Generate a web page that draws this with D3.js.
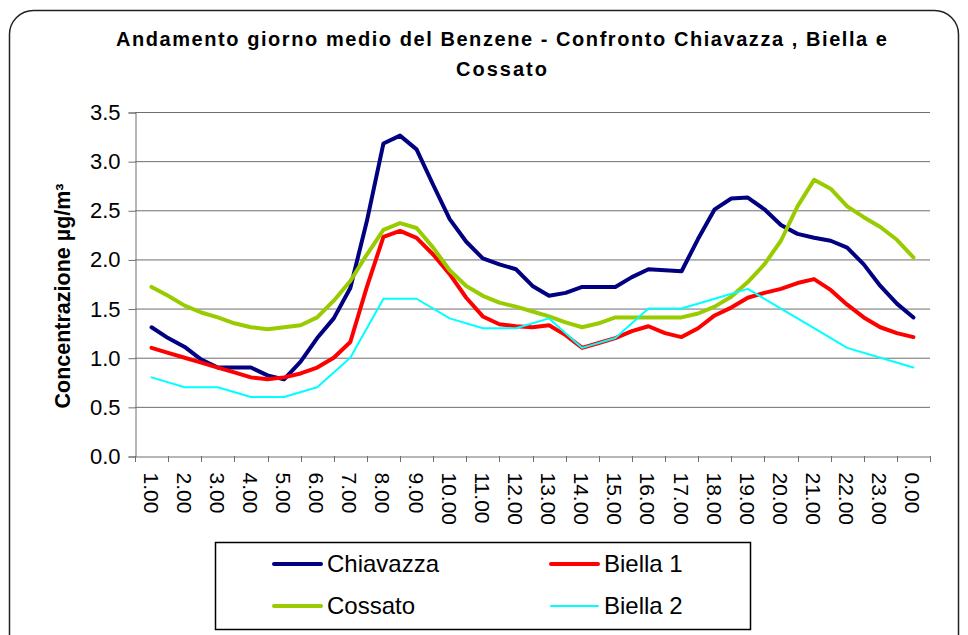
<!DOCTYPE html>
<html>
<head>
<meta charset="utf-8">
<script src="https://cdn.jsdelivr.net/npm/d3@7"></script>
<style>
    body { margin: 0; background: #fff; }
    svg text { font-family: "Liberation Sans", Arial, sans-serif; }
</style>
</head>
<body>
<svg id="chart" width="968" height="635"></svg>
<script>
// hourly category labels
let hours = ["1.00", "2.00", "3.00", "4.00", "5.00", "6.00", "7.00", "8.00", "9.00", "10.00",
    "11.00", "12.00", "13.00", "14.00", "15.00", "16.00", "17.00", "18.00", "19.00", "20.00",
    "21.00", "22.00", "23.00", "0.00"];

// half-hour values, 1.00 -> 0.00 (47 points)
let chiavazza = [1.31, 1.20, 1.11, 0.98, 0.90, 0.90, 0.90, 0.82, 0.78, 0.96,
    1.20, 1.40, 1.71, 2.39, 3.18, 3.26, 3.12, 2.76, 2.41, 2.18,
    2.01, 1.95, 1.90, 1.73, 1.63, 1.66, 1.72, 1.72, 1.72, 1.82,
    1.90, 1.89, 1.88, 2.21, 2.51, 2.62, 2.63, 2.51, 2.35, 2.26,
    2.22, 2.19, 2.12, 1.95, 1.73, 1.55, 1.41];
let biella1 = [1.10, 1.05, 1.00, 0.95, 0.90, 0.85, 0.80, 0.78, 0.80, 0.84,
    0.90, 1.00, 1.16, 1.72, 2.23, 2.29, 2.22, 2.05, 1.85, 1.61,
    1.42, 1.34, 1.32, 1.31, 1.33, 1.23, 1.10, 1.15, 1.20, 1.27,
    1.32, 1.25, 1.21, 1.30, 1.43, 1.51, 1.61, 1.66, 1.70, 1.76,
    1.80, 1.69, 1.54, 1.41, 1.31, 1.25, 1.21];
let cossato = [1.72, 1.63, 1.53, 1.46, 1.41, 1.35, 1.31, 1.29, 1.31, 1.33,
    1.41, 1.58, 1.78, 2.05, 2.30, 2.37, 2.32, 2.12, 1.89, 1.73,
    1.63, 1.56, 1.52, 1.47, 1.42, 1.36, 1.31, 1.35, 1.41, 1.41,
    1.41, 1.41, 1.41, 1.45, 1.52, 1.62, 1.77, 1.95, 2.19, 2.54,
    2.81, 2.72, 2.54, 2.43, 2.33, 2.20, 2.02];
// hourly values
let biella2 = [0.8, 0.7, 0.7, 0.6, 0.6, 0.7, 1.0, 1.6, 1.6, 1.4,
    1.3, 1.3, 1.4, 1.1, 1.2, 1.5, 1.5, 1.6, 1.7, 1.5,
    1.3, 1.1, 1.0, 0.9];

let yTicks = [0, 0.5, 1, 1.5, 2, 2.5, 3, 3.5];

let series = [
    {name: "Chiavazza", values: chiavazza, step: 0.5, color: "#000080", width: 4},
    {name: "Biella 1", values: biella1, step: 0.5, color: "#ff0000", width: 4},
    {name: "Cossato", values: cossato, step: 0.5, color: "#99cc00", width: 4},
    {name: "Biella 2", values: biella2, step: 1, color: "#00ffff", width: 2}
];

let svg = d3.select("#chart");
let plot = {left: 135, right: 930, top: 112, bottom: 456};

// outer frame
svg.append("rect")
    .attr("x", 9.5).attr("y", 10.5)
    .attr("width", 949).attr("height", 660)
    .attr("rx", 24)
    .attr("fill", "#fff")
    .attr("stroke", "#222")
    .attr("stroke-width", 1.5);

// title (stretched like the original rendering)
let title = svg.append("g")
    .attr("font-weight", "bold")
    .attr("font-size", 20)
    .attr("fill", "#000");
title.append("text")
    .attr("x", 116).attr("y", 46)
    .attr("textLength", 771)
    .attr("lengthAdjust", "spacing")
    .text("Andamento giorno medio del Benzene - Confronto Chiavazza , Biella e");
title.append("text")
    .attr("x", 456).attr("y", 76)
    .attr("textLength", 91)
    .attr("lengthAdjust", "spacing")
    .text("Cossato");

// scales
let x = d3.scaleBand()
    .domain(hours)
    .range([plot.left, plot.right]);
let xPos = d3.scaleLinear()
    .domain([0, hours.length - 1])
    .range([x(hours[0]) + x.bandwidth() / 2, x(hours[hours.length - 1]) + x.bandwidth() / 2]);
let y = d3.scaleLinear()
    .domain([0, 3.5])
    .range([plot.bottom, plot.top]);

// gridlines
svg.append("g")
    .selectAll("line")
    .data(yTicks.filter(d => d > 0))
    .join("line")
    .attr("x1", plot.left).attr("x2", plot.right)
    .attr("y1", d => y(d) + 0.5).attr("y2", d => y(d) + 0.5)
    .attr("stroke", "#6e6e6e")
    .attr("stroke-width", 1);

// y axis
let yAxis = svg.append("g")
    .attr("transform", "translate(" + (plot.left + 0.5) + ",0.5)")
    .call(d3.axisLeft(y).tickValues(yTicks).tickFormat(d3.format(".1f")).tickSize(7).tickPadding(8));
yAxis.select(".domain").attr("stroke", "#6e6e6e");
yAxis.selectAll(".tick line").attr("stroke", "#6e6e6e");
yAxis.selectAll(".tick text")
    .attr("font-size", 22)
    .attr("fill", "#000")
    .attr("font-family", "Liberation Sans, Arial, sans-serif");

// x axis: labels at band centres, ticks between categories
let xAxis = svg.append("g")
    .attr("transform", "translate(0," + (plot.bottom + 0.5) + ")")
    .call(d3.axisBottom(x).tickSize(0).tickPadding(0));
xAxis.select(".domain").attr("stroke", "#6e6e6e");
xAxis.selectAll(".tick text")
    .attr("font-size", 21)
    .attr("fill", "#000")
    .attr("font-family", "Liberation Sans, Arial, sans-serif")
    .attr("text-anchor", "start")
    .attr("transform", "translate(-8,16) rotate(90)")
    .attr("dy", "0")
    .attr("y", 0);

svg.append("g")
    .selectAll("line")
    .data(hours.map(h => x(h)).concat([plot.right]))
    .join("line")
    .attr("x1", d => Math.round(d) + 0.5).attr("x2", d => Math.round(d) + 0.5)
    .attr("y1", plot.bottom).attr("y2", plot.bottom + 6)
    .attr("stroke", "#6e6e6e");

// lines
let line = d3.line()
    .x(d => xPos(d.i))
    .y(d => y(d.v));

svg.append("g")
    .selectAll("path")
    .data(series)
    .join("path")
    .attr("d", s => line(s.values.map((v, j) => ({i: j * s.step, v: v}))))
    .attr("fill", "none")
    .attr("stroke", s => s.color)
    .attr("stroke-width", s => s.width)
    .attr("stroke-linejoin", "round")
    .attr("stroke-linecap", "round");

// y axis title
svg.append("text")
    .attr("transform", "translate(70,296) rotate(-90)")
    .attr("text-anchor", "middle")
    .attr("font-weight", "bold")
    .attr("font-size", 21.5)
    .text("Concentrazione µg/m³");

// legend
let legend = svg.append("g");
legend.append("rect")
    .attr("x", 215.5).attr("y", 542.5)
    .attr("width", 535).attr("height", 87)
    .attr("fill", "#fff")
    .attr("stroke", "#000")
    .attr("stroke-width", 1.5);

let legendPos = [
    {x: 274, y: 564},
    {x: 551, y: 564},
    {x: 274, y: 606},
    {x: 551, y: 606}
];

legend.selectAll("g.item")
    .data(series)
    .join("g")
    .attr("class", "item")
    .attr("transform", (s, k) => "translate(" + legendPos[k].x + "," + legendPos[k].y + ")")
    .each(function (s) {
        let g = d3.select(this);
        g.append("line")
            .attr("x1", 0).attr("x2", 47)
            .attr("stroke", s.color)
            .attr("stroke-width", s.width)
            .attr("stroke-linecap", "round");
        g.append("text")
            .attr("x", 53).attr("y", 8)
            .attr("font-size", 24)
            .text(s.name);
    });
</script>
</body>
</html>
